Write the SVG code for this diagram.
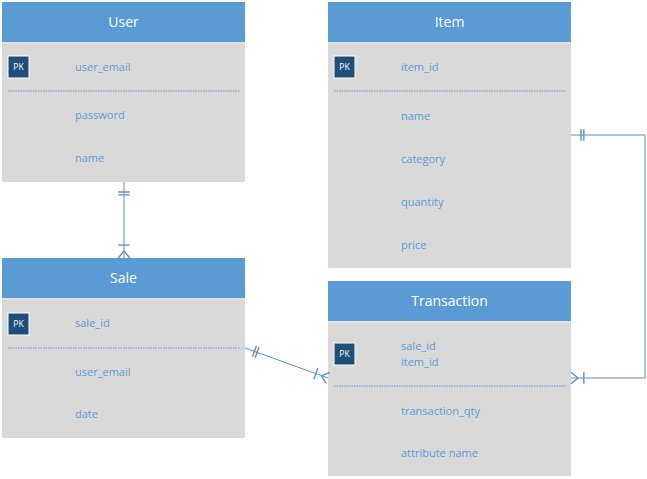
<svg xmlns="http://www.w3.org/2000/svg" width="647" height="479" viewBox="0 0 647 479">
<style>
.hdr{fill:#5b9bd5}
.body{fill:#d9d9d9}
.strip{fill:#e2e2e2}
.title{font-family:"Open Sans","Liberation Sans",sans-serif;font-size:14px;fill:#ffffff;text-anchor:middle}
.attr{font-family:"Open Sans","Liberation Sans",sans-serif;font-size:11px;fill:#5b9bd5}
.pk{fill:#1f4e79;stroke:#ffffff;stroke-width:1}
.pkt{font-family:"Open Sans","Liberation Sans",sans-serif;font-size:8.5px;fill:#ffffff;text-anchor:middle}
.sep{stroke:#5b9bd5;stroke-width:1;stroke-dasharray:1.5 1}
.conn{fill:none;stroke:#5b8ec6;stroke-width:1}
.mk{fill:none;stroke:#5b8ec6;stroke-width:1}
</style>
<defs>
<marker id="one" markerUnits="userSpaceOnUse" markerWidth="20" markerHeight="20" viewBox="-12 -6 14 12" refX="0" refY="0" orient="auto-start-reverse" overflow="visible">
<path class="mk" d="M-7 -4V4M-9 -4V4"/>
</marker>
<marker id="many" markerUnits="userSpaceOnUse" markerWidth="20" markerHeight="20" viewBox="-12 -6 14 12" refX="0" refY="0" orient="auto-start-reverse" overflow="visible">
<path class="mk" d="M-9 -4V4M-5 0L0 -4M-5 0L0 4"/>
</marker>
</defs>
<rect width="647" height="479" fill="#ffffff"/>

<g id="User">
<rect class="hdr" x="2" y="2" width="243" height="40"/>
<rect class="body" x="2" y="42" width="243" height="140"/>
<rect class="strip" x="2" y="42" width="243" height="2"/>
<text class="title" x="123.5" y="27">User</text>
<rect class="pk" x="8" y="56" width="21" height="22"/>
<text class="pkt" x="18.5" y="70">PK</text>
<text class="attr" x="75" y="71">user_email</text>
<line class="sep" x1="8" y1="91" x2="240" y2="91"/>
<text class="attr" x="75" y="119">password</text>
<text class="attr" x="75" y="162">name</text>
</g>

<g id="Item">
<rect class="hdr" x="328" y="2" width="243" height="40"/>
<rect class="body" x="328" y="42" width="243" height="226"/>
<rect class="strip" x="328" y="42" width="243" height="2"/>
<text class="title" x="449.5" y="27">Item</text>
<rect class="pk" x="334" y="56" width="21" height="22"/>
<text class="pkt" x="344.5" y="70">PK</text>
<text class="attr" x="401" y="71">item_id</text>
<line class="sep" x1="334" y1="91" x2="566" y2="91"/>
<text class="attr" x="401" y="120">name</text>
<text class="attr" x="401" y="163">category</text>
<text class="attr" x="401" y="206">quantity</text>
<text class="attr" x="401" y="249">price</text>
</g>

<g id="Sale">
<rect class="hdr" x="2" y="258" width="243" height="40"/>
<rect class="body" x="2" y="298" width="243" height="140"/>
<rect class="strip" x="2" y="298" width="243" height="2"/>
<text class="title" x="123.5" y="283">Sale</text>
<rect class="pk" x="8" y="313" width="21" height="22"/>
<text class="pkt" x="18.5" y="327">PK</text>
<text class="attr" x="75" y="327">sale_id</text>
<line class="sep" x1="8" y1="348" x2="240" y2="348"/>
<text class="attr" x="75" y="376">user_email</text>
<text class="attr" x="75" y="418">date</text>
</g>

<g id="Transaction">
<rect class="hdr" x="328" y="281" width="243" height="40"/>
<rect class="body" x="328" y="321" width="243" height="155"/>
<rect class="strip" x="328" y="321" width="243" height="2"/>
<text class="title" x="449.5" y="306">Transaction</text>
<rect class="pk" x="334" y="343" width="21" height="22"/>
<text class="pkt" x="344.5" y="357">PK</text>
<text class="attr" x="401" y="350">sale_id</text>
<text class="attr" x="401" y="366">item_id</text>
<line class="sep" x1="334" y1="386" x2="566" y2="386"/>
<text class="attr" x="401" y="415">transaction_qty</text>
<text class="attr" x="401" y="457">attribute name</text>
</g>

<g id="connectors">
<path class="conn" d="M124 182V258" marker-start="url(#one)" marker-end="url(#many)"/>
<path class="conn" d="M245 348L328 378" marker-start="url(#one)" marker-end="url(#many)"/>
<path class="conn" d="M571 135H645V378H571" marker-start="url(#one)" marker-end="url(#many)"/>
</g>
</svg>
